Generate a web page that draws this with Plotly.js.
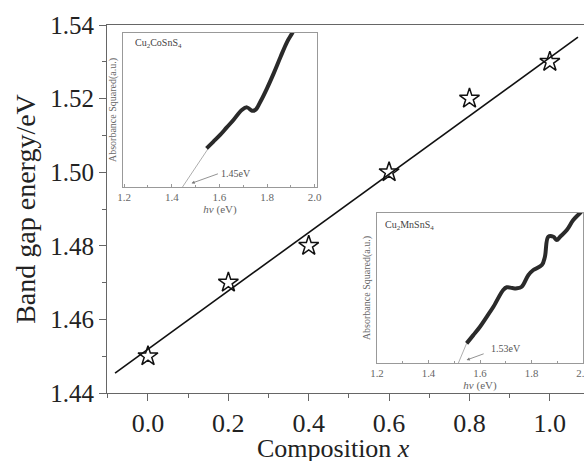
<!DOCTYPE html>
<html>
<head>
<meta charset="utf-8">
<script src="https://cdn.plot.ly/plotly-3.0.1.min.js"></script>
<style>html,body{margin:0;padding:0;background:#fff;}#chart{width:584px;height:461px;}</style>
</head>
<body>
<div id="chart"></div>
<script>
// Main chart data
const compX = [0.0, 0.2, 0.4, 0.6, 0.8, 1.0];
const bandGap = [1.45, 1.47, 1.48, 1.50, 1.52, 1.53];
const fitX = [-0.082, 1.07];
const fitY = [1.4454, 1.5367];
const xTickVals = [0.0, 0.2, 0.4, 0.6, 0.8, 1.0];
const xTickText = ["0.0", "0.2", "0.4", "0.6", "0.8", "1.0"];
const yTickVals = [1.44, 1.46, 1.48, 1.50, 1.52, 1.54];
const yTickText = ["1.44", "1.46", "1.48", "1.50", "1.52", "1.54"];
const xTitle = "Composition <i>x</i>";
const yTitle = "Band gap energy/eV";

// Inset 1: Cu2CoSnS4
const coE = [1.546, 1.575, 1.603, 1.630, 1.659, 1.694, 1.716, 1.737, 1.751, 1.772, 1.800, 1.828, 1.857, 1.885, 1.906, 1.93];
const coA = [0.251, 0.295, 0.338, 0.385, 0.435, 0.500, 0.517, 0.495, 0.500, 0.554, 0.641, 0.738, 0.846, 0.944, 1.000, 1.08];
const coFitE = [1.553, 1.445];
const coFitA = [0.25, 0.0];
const coLabel = "Cu<sub>2</sub>CoSnS<sub>4</sub>";
const coGap = "1.45eV";

// Inset 2: Cu2MnSnS4
const mnE = [1.548, 1.574, 1.600, 1.626, 1.652, 1.690, 1.704, 1.725, 1.743, 1.762, 1.788, 1.807, 1.840, 1.852, 1.865, 1.885, 1.898, 1.911, 1.937, 1.962, 1.988, 2.01];
const mnA = [0.131, 0.186, 0.242, 0.308, 0.375, 0.487, 0.505, 0.500, 0.498, 0.509, 0.587, 0.620, 0.653, 0.709, 0.842, 0.842, 0.820, 0.842, 0.887, 0.953, 1.000, 1.04];
const mnFitE = [1.548, 1.516];
const mnFitA = [0.131, 0.0];
const mnLabel = "Cu<sub>2</sub>MnSnS<sub>4</sub>";
const mnGap = "1.53eV";

const coTicks = [1.2, 1.4, 1.6, 1.8, 2.0];
const coTickText = ["1.2", "1.4", "1.6", "1.8", "2.0"];
const mnTicks = [1.2, 1.4, 1.6, 1.8, 2.0];
const mnTickText = ["1.2", "1.4", "1.6", "1.8", "2.0"];
const insetMinor = [1.3, 1.5, 1.7, 1.9];
const insetXTitle = "<i>hv</i> (eV)";
const insetYTitle = "Absorbance Squared(a.u.)";

const serif = "Liberation Serif, Times New Roman, serif";
const ink = "#222";

const traces = [
  {x: fitX, y: fitY, mode: "lines", line: {color: "#111", width: 1.6}, xaxis: "x", yaxis: "y"},
  {x: compX, y: bandGap, mode: "markers", marker: {symbol: "star-open", size: 15, color: "#111", line: {width: 1.5, color: "#111"}}, xaxis: "x", yaxis: "y"},
  {x: coFitE, y: coFitA, mode: "lines", line: {color: "#999", width: 0.8}, xaxis: "x2", yaxis: "y2"},
  {x: coE, y: coA, mode: "lines", line: {color: "#2a2a2a", width: 4, shape: "spline"}, xaxis: "x2", yaxis: "y2"},
  {x: mnFitE, y: mnFitA, mode: "lines", line: {color: "#999", width: 0.8}, xaxis: "x3", yaxis: "y3"},
  {x: mnE, y: mnA, mode: "lines", line: {color: "#2a2a2a", width: 4, shape: "spline"}, xaxis: "x3", yaxis: "y3"}
];

const layout = {
  width: 584, height: 461,
  margin: {l: 107, r: 0, t: 25, b: 68},
  showlegend: false,
  plot_bgcolor: "rgba(0,0,0,0)",
  font: {family: serif, color: ink},
  xaxis: {
    domain: [0, 1], range: [-0.102, 1.085], anchor: "y",
    tickmode: "array", tickvals: xTickVals, ticktext: xTickText,
    ticks: "outside", ticklen: 7, tickcolor: "#666",
    minor: {dtick: 0.1, tick0: 0, ticks: "outside", ticklen: 4, tickcolor: "#666"},
    showline: true, mirror: true, linecolor: "#666",
    showgrid: false, zeroline: false,
    tickfont: {size: 26}
  },
  yaxis: {
    domain: [0, 1], range: [1.44, 1.54], anchor: "x",
    tickmode: "array", tickvals: yTickVals, ticktext: yTickText,
    ticks: "outside", ticklen: 7, tickcolor: "#666",
    minor: {dtick: 0.01, tick0: 1.44, ticks: "outside", ticklen: 4, tickcolor: "#666"},
    showline: true, linecolor: "#666",
    showgrid: false, zeroline: false,
    tickfont: {size: 25},
    title: {text: yTitle, font: {size: 28}, standoff: 6}
  },
  xaxis2: {
    domain: [0.0335, 0.4403], range: [1.195, 2.01], anchor: "y2",
    tickmode: "array", tickvals: coTicks, ticktext: coTickText,
    ticks: "inside", ticklen: 3, tickcolor: "#999",
    minor: {tickmode: "array", tickvals: insetMinor, ticks: "inside", ticklen: 2, tickcolor: "#999"},
    showline: true, mirror: true, linecolor: "#999",
    showgrid: false, zeroline: false,
    ticklabeloverflow: "allow",
    tickfont: {family: "Liberation Serif, serif", size: 11, color: "#666"},
    title: {text: insetXTitle, font: {size: 11, color: "#666"}, standoff: 2}
  },
  yaxis2: {
    domain: [0.5598, 0.9783], range: [0, 1], anchor: "x2",
    showticklabels: false, ticks: "",
    showline: true, mirror: true, linecolor: "#999",
    showgrid: false, zeroline: false,
    title: {text: insetYTitle, font: {size: 10, color: "#666"}, standoff: 3}
  },
  xaxis3: {
    domain: [0.566, 0.998], range: [1.2, 2.0], anchor: "y3",
    tickmode: "array", tickvals: mnTicks, ticktext: mnTickText,
    ticks: "inside", ticklen: 3, tickcolor: "#999",
    minor: {tickmode: "array", tickvals: insetMinor, ticks: "inside", ticklen: 2, tickcolor: "#999"},
    showline: true, mirror: true, linecolor: "#999",
    showgrid: false, zeroline: false,
    ticklabeloverflow: "allow",
    tickfont: {family: serif, size: 10.8, color: "#656565"},
    title: {text: insetXTitle, font: {size: 11, color: "#666"}, standoff: 2}
  },
  yaxis3: {
    domain: [0.0815, 0.489], range: [0, 1], anchor: "x3",
    showticklabels: false, ticks: "",
    showline: true, mirror: true, linecolor: "#999",
    showgrid: false, zeroline: false,
    title: {text: insetYTitle, font: {size: 10, color: "#666"}, standoff: 3}
  },
  annotations: [
    {xref: "paper", yref: "paper", x: 0.4738, y: -0.152, xanchor: "center", yanchor: "middle", text: xTitle, showarrow: false, font: {size: 26, color: ink}},
    {xref: "x2 domain", yref: "y2 domain", x: 0.05, y: 0.93, xanchor: "left", yanchor: "middle", text: coLabel, showarrow: false, font: {size: 10, color: "#444"}},
    {xref: "x2", yref: "y2", x: 1.483, y: 0.024, ax: 1.60, ay: 0.089, axref: "x2", ayref: "y2", text: "", showarrow: true, arrowhead: 2, arrowsize: 0.8, arrowwidth: 0.8, arrowcolor: "#777"},
    {xref: "x2", yref: "y2", x: 1.60, y: 0.089, xanchor: "left", text: coGap, showarrow: false, font: {size: 10, color: "#555"}},
    {xref: "x3 domain", yref: "y3 domain", x: 0.03, y: 0.92, xanchor: "left", yanchor: "middle", text: mnLabel, showarrow: false, font: {size: 10, color: "#444"}},
    {xref: "x3", yref: "y3", x: 1.548, y: 0.02, ax: 1.62, ay: 0.065, axref: "x3", ayref: "y3", text: "", showarrow: true, arrowhead: 2, arrowsize: 0.8, arrowwidth: 0.8, arrowcolor: "#777"},
    {xref: "x3", yref: "y3", x: 1.635, y: 0.098, xanchor: "left", text: mnGap, showarrow: false, font: {size: 10, color: "#555"}}
  ]
};

Plotly.newPlot("chart", traces, layout, {staticPlot: true, displayModeBar: false});
</script>
</body>
</html>
